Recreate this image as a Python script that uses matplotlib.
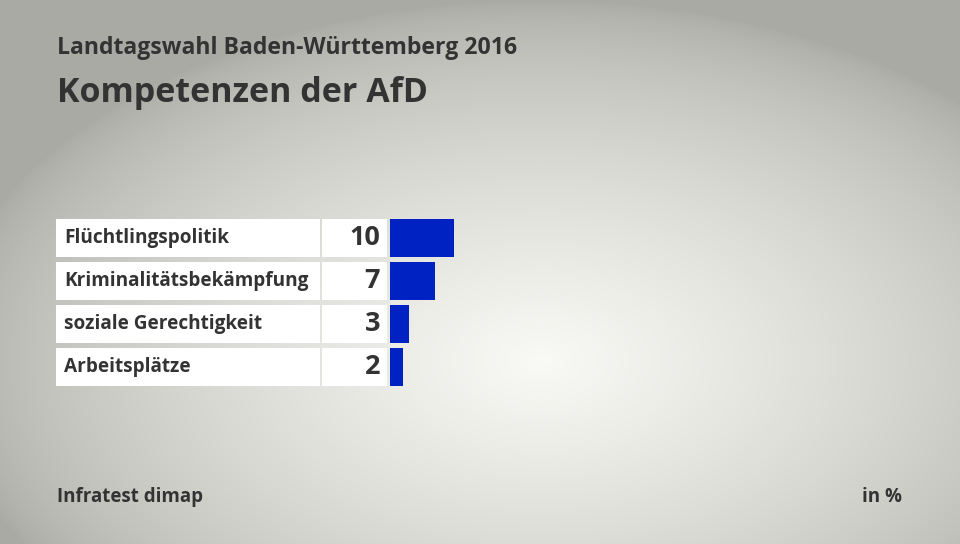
import numpy as np
import matplotlib.pyplot as plt
from matplotlib.patches import Rectangle

# Kompetenzen der AfD, Landtagswahl BW 2016
topics = ["Flüchtlingspolitik", "Kriminalitätsbekämpfung", "soziale Gerechtigkeit", "Arbeitsplätze"]
values = [10, 7, 3, 2]

W, H = 960, 544
fig = plt.figure(figsize=(W / 100, H / 100), dpi=100)

def fx(px):
    return px / W

def fy(py):
    return 1 - py / H

# grauer Hintergrund mit hellem Zentrum
bg = fig.add_axes([0, 0, 1, 1])
yy, xx = np.mgrid[0:H, 0:W]
r = np.sqrt(((xx - 540) / 600) ** 2 + ((yy - 360) / 360) ** 2)
light = np.clip(1 - r, 0, 1) ** 0.65
base = np.array([170, 170, 164]) / 255
top = np.array([249, 249, 245]) / 255
img = base + (top - base) * light[..., None]
bg.imshow(img, extent=[0, 1, 0, 1], aspect="auto")
bg.axis("off")

font = "Open Sans"
dark = "#333333"

fig.text(fx(57), fy(48), "Landtagswahl Baden-Württemberg 2016", fontsize=16.6,
         family=font, weight="bold", color=dark, va="center")
fig.text(fx(57), fy(93), "Kompetenzen der AfD", fontsize=24.5,
         family=font, weight="bold", color=dark, va="center")
fig.text(fx(57), fy(497), "Infratest dimap", fontsize=13.5,
         family=font, weight="bold", color=dark, va="center")
fig.text(fx(902), fy(497), "in %", fontsize=13.5,
         family=font, weight="bold", color=dark, va="center", ha="right")

# Balken
row_top, row_bottom = 219, 386
ax = fig.add_axes([fx(390), fy(row_bottom), fx(320), (row_bottom - row_top) / H])
ax.patch.set_alpha(0)
y = np.arange(len(topics))
ax.barh(y, values, height=38 / 43, color="#0022c2")
ax.set_xlim(0, 50)
ax.set_ylim(len(topics) - 0.5 - 0.058, -0.5 + 0.058)
ax.axis("off")

for i, (t, v) in enumerate(zip(topics, values)):
    cy = row_top + 19 + i * 43
    fig.add_artist(Rectangle((fx(56), fy(cy + 19)), fx(264), 38 / H,
                             facecolor="white", edgecolor="none"))
    fig.add_artist(Rectangle((fx(322), fy(cy + 19)), fx(65), 38 / H,
                             facecolor="white", edgecolor="none"))
    fig.text(fx(64), fy(cy), t, fontsize=13.7, family=font, weight="bold",
             color=dark, va="center")
    fig.text(fx(380), fy(cy), str(v), fontsize=19.5, family=font, weight="bold",
             color=dark, va="center", ha="right")

fig.savefig("out.png", dpi=100)
